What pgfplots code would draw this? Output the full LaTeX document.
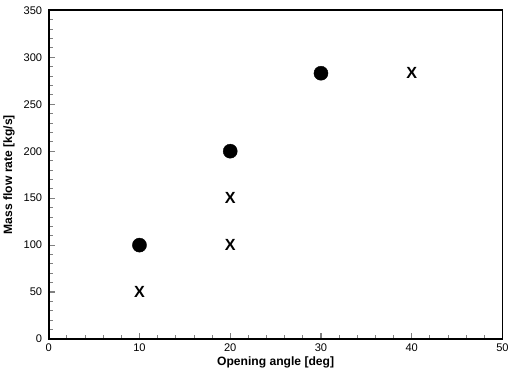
\documentclass[border=0pt]{standalone}
\usepackage{fontspec}
\setmainfont{Liberation Sans}
\usepackage{pgfplots}
\pgfplotsset{compat=1.18}
\begin{document}
\begin{tikzpicture}
\begin{axis}[
  scale only axis,
  width=450pt, height=326pt,
  xmin=0, xmax=50, ymin=0, ymax=350,
  xtick={0,10,...,50}, ytick={0,50,...,350},
  minor x tick num=4, minor y tick num=4,
  tick align=inside,
  xtick pos=bottom, ytick pos=left,
  major tick length=6pt, minor tick length=4pt,
  every major tick/.style={line width=1.2pt},
  every minor tick/.style={line width=0.8pt},
  axis line style={line width=1.8pt},
  /pgf/number format/assume math mode=true,
  ticklabel style={font=\fontsize{11}{12}\selectfont},
  yticklabel style={xshift=-3pt},
  xticklabel style={yshift=-1pt},
  xlabel={\textbf{Opening angle [deg]}},
  ylabel={\textbf{Mass flow rate [kg/s]}},
  label style={font=\fontsize{12}{14}\selectfont},
  xlabel style={yshift=2pt},
  ylabel style={yshift=2pt},
  clip=false,
]
\addplot[only marks, mark=*, mark size=7pt, black] coordinates {(10,100) (20,200) (30,283)};
\addplot[only marks, mark=text, text mark={\fontsize{16}{16}\selectfont\textbf{X}}, black] coordinates {(10,50) (20,100) (20,150) (40,283)};
\end{axis}
\path (current bounding box.north) ++(0,3pt) coordinate (topext);
\end{tikzpicture}
\end{document}
